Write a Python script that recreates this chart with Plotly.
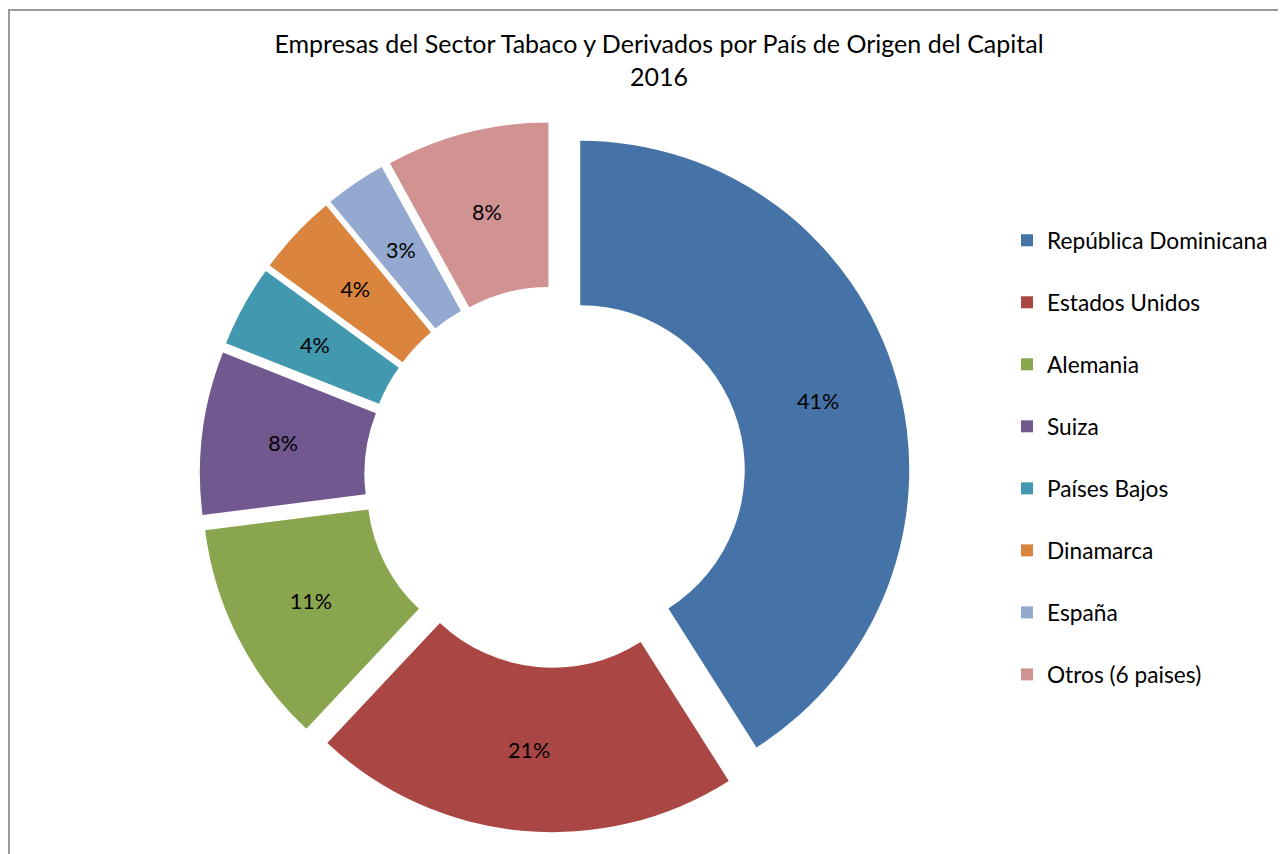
import plotly.graph_objects as go

categories = ["República Dominicana", "Estados Unidos", "Alemania", "Suiza",
              "Países Bajos", "Dinamarca", "España", "Otros (6 paises)"]
shares = [41, 21, 11, 8, 4, 4, 3, 8]
colors = ["#4572A7", "#AA4643", "#89A54E", "#71588F",
          "#4198AF", "#DB843D", "#93A9CF", "#D19392"]
title_lines = ["Empresas del Sector Tabaco y Derivados por País de Origen del Capital", "2016"]

# the page body has an 8px default margin, so the figure is 8px smaller
W, H = 1278, 846
font_family = "Lato, 'Open Sans', sans-serif"
label_size = 21.5

# legend entries get an empty second line to reproduce the wide spacing
legend_labels = [c + "<br> " for c in categories]

main_dom_x = [0.1494, 0.7066]
main_dom_y = [0.02565, 0.8656]
text_dom_y = [0.0916, 0.7996]

# exploded donut (the slices)
donut = go.Pie(
    labels=legend_labels,
    values=shares,
    sort=False,
    direction="clockwise",
    rotation=0,
    hole=0.5,
    pull=[0.08] * len(shares),
    marker=dict(colors=colors, line=dict(width=0)),
    textinfo="none",
    domain=dict(x=main_dom_x, y=main_dom_y),
    hoverinfo="label+percent",
)

# transparent thin ring carrying the percentage labels at the ring's mid radius
labels_ring = go.Pie(
    labels=legend_labels,
    values=shares,
    sort=False,
    direction="clockwise",
    rotation=0,
    hole=0.83,
    marker=dict(colors=["rgba(0,0,0,0)"] * len(shares), line=dict(width=0)),
    textinfo="percent",
    textposition="inside",
    insidetextorientation="horizontal",
    textfont=dict(family=font_family, size=label_size, color="#000000"),
    domain=dict(x=main_dom_x, y=text_dom_y),
    showlegend=False,
    hoverinfo="skip",
)

fig = go.Figure([donut, labels_ring])

fig.update_layout(
    width=W, height=H,
    margin=dict(l=0, r=0, t=0, b=0),
    paper_bgcolor="white",
    font=dict(family=font_family, color="#000000"),
    title=dict(text="<br>".join(title_lines), x=651 / W, xanchor="center",
               y=1 - 45 / H, yanchor="top",
               font=dict(family=font_family, size=25, color="#000000")),
    showlegend=True,
    legend=dict(x=999 / W, y=1 - 211 / H, xanchor="left", yanchor="top",
                font=dict(family=font_family, size=22.7, color="#000000"),
                valign="top", itemclick=False, itemdoubleclick=False),
    uniformtext=dict(minsize=label_size, mode="show"),
    shapes=[dict(type="rect", xref="paper", yref="paper",
                 x0=1 / W, x1=1.05, y0=-0.05, y1=1 - 2 / H,
                 line=dict(color="#9a9a9a", width=2), layer="below")],
)

fig.write_html("out.html")
